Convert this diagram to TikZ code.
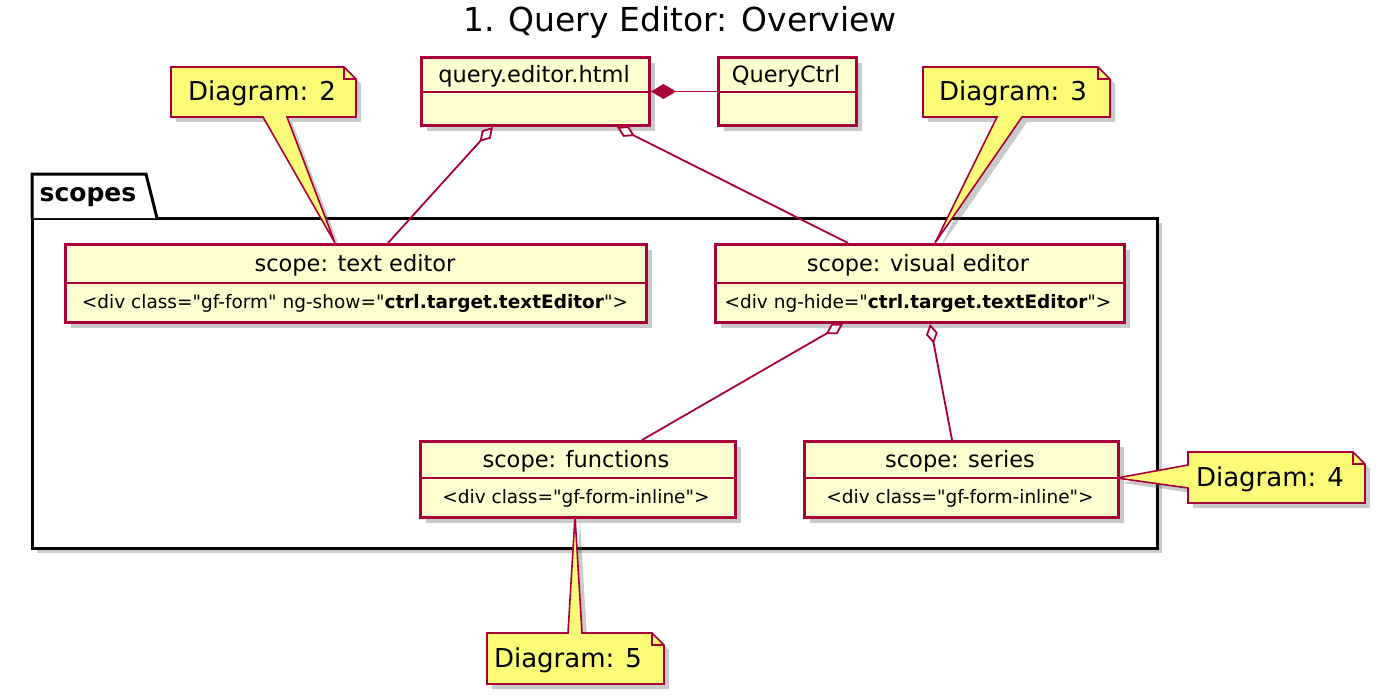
\documentclass[tikz,border=0pt]{standalone}
\usepackage{fontspec}
\setmainfont{DejaVu Sans}[Ligatures=TeXOff]
\usetikzlibrary{arrows.meta,shadows,calc}
\definecolor{umlred}{HTML}{A80036}
\definecolor{classbg}{HTML}{FEFECE}
\definecolor{notebg}{HTML}{FBFB77}
\begin{document}
\begin{tikzpicture}[x=1pt,y=-1pt,
  shad/.style={drop shadow={shadow xshift=5pt,shadow yshift=-5pt,fill=black!60,opacity=0.35}},
  classbox/.style={draw=umlred,fill=classbg,line width=3pt,anchor=north west,inner sep=0pt,shad},
  divider/.style={draw=umlred,line width=2.6pt},
  hdr/.style={font=\fontsize{22.5}{27}\selectfont},
  bodytxt/.style={font=\fontsize{18.5}{22}\selectfont},
  conn/.style={draw=umlred,line width=1.8pt},
  agg/.style={conn,-{Diamond[length=20pt,width=12pt,fill=white,line width=1.8pt]}},
  comp/.style={conn,-{Diamond[length=25pt,width=15pt,fill=umlred,line width=1.8pt]}},
  notebox/.style={draw=umlred,fill=notebg,line width=1.6pt,line join=miter,shad},
  notetxt/.style={font=\fontsize{26}{31}\selectfont},
]
\useasboundingbox (0,0) rectangle (1380,699);

% title
\node[font=\fontsize{33}{40}\selectfont] (title) at (680,22) {1. Query Editor: Overview};

% package scopes
\draw[line width=3pt,fill=white,shad] (32,218) rectangle (1157,548);
\draw[line width=3pt,fill=white,line join=miter] (32,218) -- (32,174) -- (146,174) -- (157,218);
\node[font=\bfseries\fontsize{25}{30}\selectfont] (pkg) at (88,197) {scopes};

% classes
\node[classbox,minimum width=228pt,minimum height=68pt] (qe) at (420,56) {};
\draw[divider] ([yshift=-36pt]qe.north west) -- ([yshift=-36pt]qe.north east);
\node[hdr] (qet) at (534,76) {query.editor.html};

\node[classbox,minimum width=138pt,minimum height=68pt] (qc) at (717,56) {};
\draw[divider] ([yshift=-36pt]qc.north west) -- ([yshift=-36pt]qc.north east);
\node[hdr] (qct) at (786,76) {QueryCtrl};

\node[classbox,minimum width=581pt,minimum height=78pt] (te) at (64,243) {};
\draw[divider] ([yshift=-40pt]te.north west) -- ([yshift=-40pt]te.north east);
\node[hdr] (tet) at (355,265) {scope: text editor};
\node[bodytxt] (teb) at (355,303) {<div class="gf-form" ng-show="\textbf{ctrl.target.textEditor}">};

\node[classbox,minimum width=409pt,minimum height=78pt] (ve) at (714,243) {};
\draw[divider] ([yshift=-40pt]ve.north west) -- ([yshift=-40pt]ve.north east);
\node[hdr] (vet) at (918,265) {scope: visual editor};
\node[bodytxt] (veb) at (918,303) {<div ng-hide="\textbf{ctrl.target.textEditor}">};

\node[classbox,minimum width=315pt,minimum height=76pt] (fn) at (419,440) {};
\draw[divider] ([yshift=-38pt]fn.north west) -- ([yshift=-38pt]fn.north east);
\node[hdr] (fnt) at (576,461) {scope: functions};
\node[bodytxt] (fnb) at (576,498) {<div class="gf-form-inline">};

\node[classbox,minimum width=314pt,minimum height=76pt] (se) at (803,440) {};
\draw[divider] ([yshift=-38pt]se.north west) -- ([yshift=-38pt]se.north east);
\node[hdr] (set) at (960,461) {scope: series};
\node[bodytxt] (seb) at (960,498) {<div class="gf-form-inline">};

% connectors
\draw[comp] (qc.west) -- (qc.west -| qe.east);
\draw[agg] ([xshift=324pt]te.north west) -- ([xshift=73pt]qe.south west);
\draw[agg] ([xshift=134pt]ve.north west) -- ([xshift=197pt]qe.south west);
\draw[agg] ([xshift=223pt]fn.north west) -- ([xshift=129pt]ve.south west);
\draw[agg] ([xshift=149pt]se.north west) -- ([xshift=216pt]ve.south west);

% notes
\draw[notebox] (171,67) -- (344,67) -- (356,79) -- (356,117) -- (287,117) -- (335,243) -- (263,117) -- (171,117) -- cycle;
\draw[draw=umlred,line width=1.6pt] (344,67) -- (344,79) -- (356,79);
\node[notetxt] (n2) at (262,93) {Diagram: 2};

\draw[notebox] (923,67) -- (1098,67) -- (1110,79) -- (1110,117) -- (1022,117) -- (935,243) -- (997,117) -- (923,117) -- cycle;
\draw[draw=umlred,line width=1.6pt] (1098,67) -- (1098,79) -- (1110,79);
\node[notetxt] (n3) at (1013,93) {Diagram: 3};

\draw[notebox] (1188,452) -- (1353,452) -- (1365,464) -- (1365,503) -- (1188,503) -- (1188,488) -- (1117,478) -- (1188,465) -- cycle;
\draw[draw=umlred,line width=1.6pt] (1353,452) -- (1353,464) -- (1365,464);
\node[notetxt] (n4) at (1270,479) {Diagram: 4};

\draw[notebox] (487,633) -- (568,633) -- (575,516) -- (582,633) -- (652,633) -- (664,645) -- (664,684) -- (487,684) -- cycle;
\draw[draw=umlred,line width=1.6pt] (652,633) -- (652,645) -- (664,645);
\node[notetxt] (n5) at (568,660) {Diagram: 5};
\end{tikzpicture}
\end{document}
